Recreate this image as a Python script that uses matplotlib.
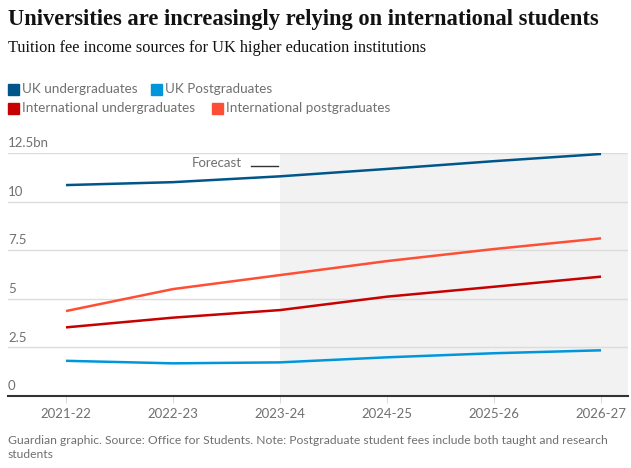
import matplotlib
matplotlib.use("Agg")
import matplotlib.pyplot as plt
from matplotlib.patches import Rectangle

# data (bn GBP)
years = ["2021-22", "2022-23", "2023-24", "2024-25", "2025-26", "2026-27"]
uk_ug = [10.85, 11.0, 11.3, 11.68, 12.08, 12.45]
uk_pg = [1.81, 1.68, 1.73, 1.99, 2.2, 2.35]
int_ug = [3.53, 4.03, 4.42, 5.11, 5.62, 6.14]
int_pg = [4.37, 5.5, 6.22, 6.94, 7.56, 8.11]
yticks = [0, 2.5, 5, 7.5, 10, 12.5]
ytick_labels = ["0", "2.5", "5", "7.5", "10", "12.5bn"]
series_names = ["UK undergraduates", "UK Postgraduates",
                "International undergraduates", "International postgraduates"]
colors = ["#005689", "#0096dc", "#c70000", "#ff4e36"]

W, H = 631, 468
fig = plt.figure(figsize=(W / 100, H / 100), dpi=100)
renderer = fig.canvas.get_renderer()
grey = "#707070"
sans = "Lato"

def fx(px):
    return px / W

def fy(py):
    return 1 - py / H

def fit(t, width_px):
    # scale font size so the text spans the width seen in the reference
    w = t.get_window_extent(renderer=renderer).width
    t.set_fontsize(t.get_fontsize() * width_px / w)

# title, subtitle
t = fig.text(fx(8), fy(19), "Universities are increasingly relying on international students",
             fontsize=15, fontweight="bold", family="Liberation Serif", va="center",
             color="#121212")
fit(t, 592)
t = fig.text(fx(8), fy(48), "Tuition fee income sources for UK higher education institutions",
             fontsize=11, family="Liberation Serif", va="center", color="#121212")
fit(t, 420)

# legend, one font size for all entries
probe = fig.text(0, 0, series_names[2], fontsize=9.5, family=sans)
fit(probe, 173)
leg_size = probe.get_fontsize()
probe.remove()
leg_pos = [(8, 89), (151, 89), (8, 108), (212, 108)]
for (lx, ly), name, c in zip(leg_pos, series_names, colors):
    fig.patches.append(Rectangle((fx(lx), fy(ly + 6)), fx(11), 11 / H,
                                 transform=fig.transFigure, color=c))
    fig.text(fx(lx + 14), fy(ly), name, fontsize=leg_size, family=sans,
             color=grey, va="center")

# axes
ax = fig.add_axes([fx(8), fy(396), fx(628 - 8), (396 - 153) / H])
x = list(range(len(years)))
ax.set_xlim(-0.542, 5.252)
ax.set_ylim(0, 12.5)
ax.axvspan(2, 5.252, color="#f2f2f2", zorder=0, lw=0)
for v in yticks[1:]:
    ax.axhline(v, color="#dcdcdc", lw=1, zorder=1)
for v, lab in zip(yticks, ytick_labels):
    ax.text(-0.542, v + 0.2, lab, fontsize=9.5, family=sans, color=grey,
            va="bottom", ha="left")

for vals, c in zip([uk_ug, uk_pg, int_ug, int_pg], colors):
    ax.plot(x, vals, color=c, lw=1.8, zorder=3, solid_capstyle="butt")

ax.text(1.64, 11.97, "Forecast", fontsize=9.5, family=sans, color=grey,
        ha="right", va="center")
ax.plot([1.73, 1.98], [11.83, 11.83], color="#333333", lw=1, clip_on=False)

for s in ["top", "right", "left"]:
    ax.spines[s].set_visible(False)
ax.spines["bottom"].set_color("#333333")
ax.spines["bottom"].set_linewidth(1.5)
ax.set_yticks([])
ax.set_xticks(x)
ax.set_xticklabels(years, fontsize=9.5, family=sans, color=grey)
ax.tick_params(axis="x", length=5, color="#dcdcdc", pad=4)

t = fig.text(fx(8), fy(441), "Guardian graphic. Source: Office for Students. Note: Postgraduate student fees include both taught and research",
             fontsize=8.6, family=sans, color=grey, va="center")
fit(t, 597)
fig.text(fx(8), fy(455), "students", fontsize=t.get_fontsize(), family=sans,
         color=grey, va="center")

fig.savefig("out.png", dpi=100)
